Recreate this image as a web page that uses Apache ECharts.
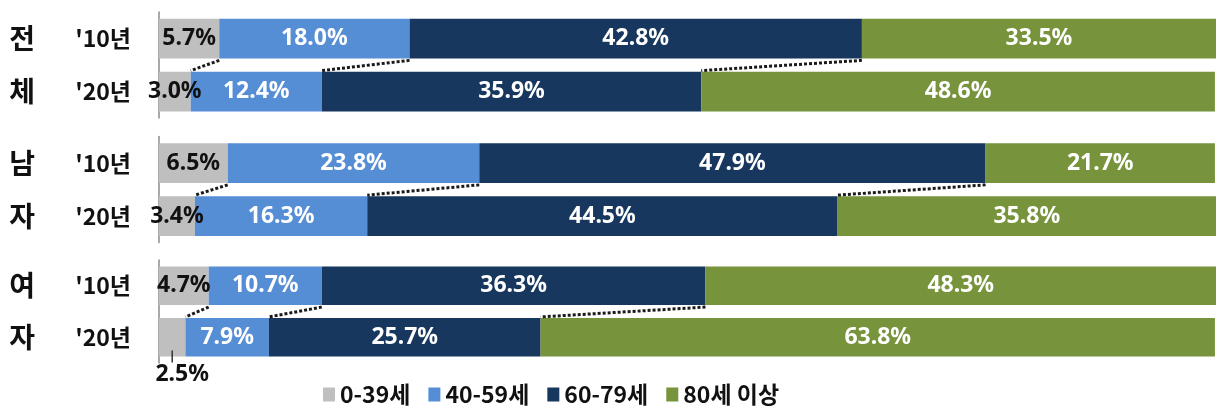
<!DOCTYPE html>
<html><head><meta charset="utf-8">
<script src="https://cdn.jsdelivr.net/npm/echarts@6/dist/echarts.min.js"></script>
<style>html,body{margin:0;padding:0;background:#fff}#c{width:1216px;height:407px}</style>
</head><body><div id="c"></div>
<script>
const groupChars = [['전','체'],['남','자'],['여','자']];
const years = ["'10년", "'20년"];
const seriesNames = ['0-39세', '40-59세', '60-79세', '80세 이상'];
const age0_39  = [[5.7, 3.0], [6.5, 3.4], [4.7, 2.5]];
const age40_59 = [[18.0, 12.4], [23.8, 16.3], [10.7, 7.9]];
const age60_79 = [[42.8, 35.9], [47.9, 44.5], [36.3, 25.7]];
const age80    = [[33.5, 48.6], [21.7, 35.8], [48.3, 63.8]];
const colors = ['#BFBFBF', '#558ED5', '#17375E', '#77933C'];
const seriesData = [age0_39, age40_59, age60_79, age80];

const gridTops = [12, 136.5, 260];
const gridHeights = [106, 106, 103];
const numFont = '"Noto Sans", "Noto Sans CJK KR", sans-serif';
const krFont = '"Noto Sans CJK KR", sans-serif';

const grids = [], xAxes = [], yAxes = [], series = [];
for (let g = 0; g < 3; g++) {
  grids.push({left: 159, right: -3, top: gridTops[g], height: gridHeights[g]});
  xAxes.push({type: 'value', gridIndex: g, min: 0, max: 100, show: false});
  yAxes.push({
    type: 'category', gridIndex: g, data: years, inverse: true,
    axisLine: {show: true, lineStyle: {color: '#8c8c8c', width: 1.5}},
    axisTick: {show: false},
    axisLabel: {margin: 28, fontSize: 23, fontWeight: 'bold', color: '#111', fontFamily: krFont}
  });
  yAxes.push({
    type: 'category', gridIndex: g, data: groupChars[g], inverse: true, position: 'left', offset: 116,
    axisLine: {show: false}, axisTick: {show: false},
    axisLabel: {margin: 8, fontSize: 28, fontWeight: 'bold', color: '#111', fontFamily: krFont}
  });
  for (let s = 0; s < 4; s++) {
    const vals = seriesData[s][g].map((v, i) => {
      if (s === 0 && g === 2 && i === 1) {
        return {value: v, label: {position: 'bottom', distance: 6, offset: [10, 0]}};
      }
      return v;
    });
    series.push({
      name: seriesNames[s], type: 'bar', stack: 'st' + g,
      xAxisIndex: g, yAxisIndex: g * 2, barWidth: '75%',
      itemStyle: {color: colors[s]},
      data: vals,
      label: {
        show: true, position: 'inside',
        formatter: p => p.value.toFixed(1) + '%',
        fontSize: 23, fontWeight: 'bold', fontFamily: numFont,
        color: s === 0 ? '#111' : '#fff'
      }
    });
  }
  // connectors between cumulative boundaries
  const conn = [];
  let c10 = 0, c20 = 0;
  for (let s = 0; s < 3; s++) {
    c10 += seriesData[s][g][0];
    c20 += seriesData[s][g][1];
    conn.push([c10, c20, 0]);
  }
  series.push({
    type: 'custom', xAxisIndex: g, yAxisIndex: g * 2, silent: true, z: 5,
    encode: {x: [0, 1], y: 2},
    data: conn,
    renderItem: function (params, api) {
      const p1 = api.coord([api.value(0), 0]);
      const p2 = api.coord([api.value(1), 1]);
      const band = api.size([0, 1])[1];
      const h = band * 0.75 / 2;
      return {
        type: 'line',
        shape: {x1: p1[0], y1: p1[1] + h + 2, x2: p2[0], y2: p2[1] - h - 1},
        style: {stroke: '#1a1a1a', lineWidth: 3, lineDash: [3, 2]}
      };
    }
  });
}
// leader tick for the small 2.5% segment (female '20)
series.push({
  type: 'custom', xAxisIndex: 2, yAxisIndex: 4, silent: true, z: 6,
  encode: {x: 0, y: 1},
  data: [[age0_39[2][1] / 2, 1]],
  renderItem: function (params, api) {
    const p = api.coord([api.value(0), api.value(1)]);
    const band = api.size([0, 1])[1];
    const h = band * 0.75 / 2;
    return {
      type: 'line',
      shape: {x1: p[0], y1: p[1] + h - 6, x2: p[0], y2: p[1] + h + 6},
      style: {stroke: '#333', lineWidth: 1.5}
    };
  }
});

const chart = echarts.init(document.getElementById('c'), null, {renderer: 'canvas'});
chart.setOption({
  animation: false,
  backgroundColor: '#fff',
  grid: grids, xAxis: xAxes, yAxis: yAxes, series: series,
  legend: {
    data: seriesNames, left: 318, top: 378,
    itemWidth: 12, itemHeight: 14, itemGap: 18,
    icon: 'rect',
    textStyle: {fontSize: 23, fontWeight: 'bold', color: '#111', fontFamily: krFont, width: 84}
  }
});
</script>
</body></html>
